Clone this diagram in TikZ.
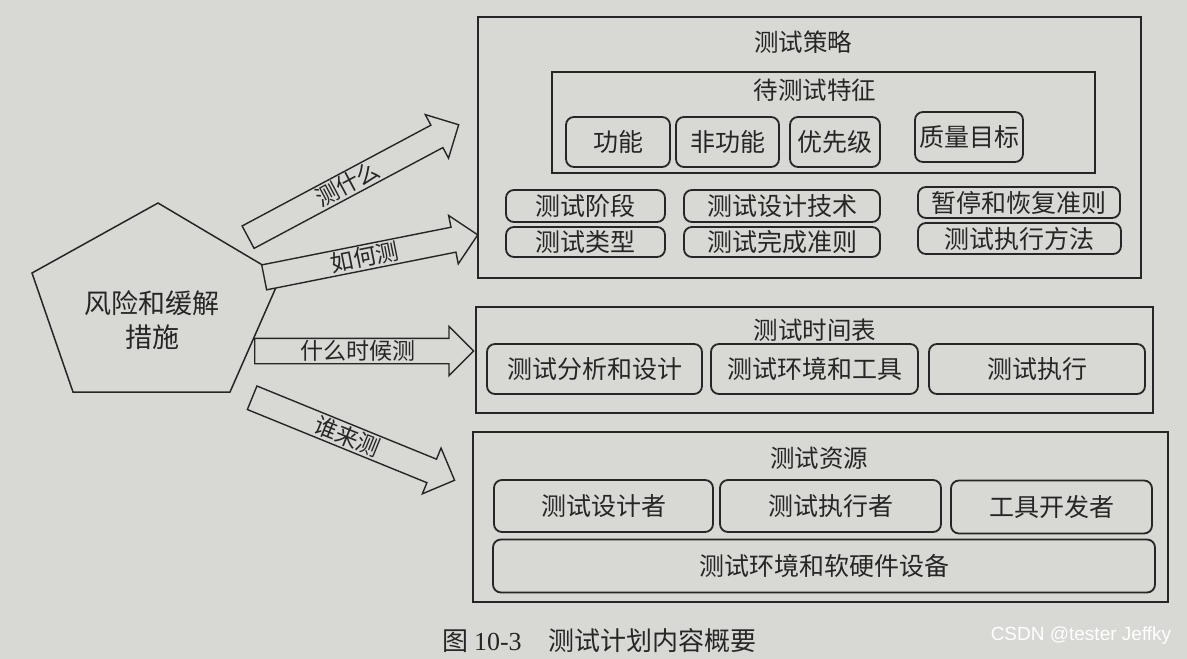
\documentclass[tikz,border=0pt]{standalone}
\usepackage{fontspec}
\setmainfont{Noto Sans CJK SC}
\newfontfamily\latinserif{Liberation Serif}
\newfontfamily\wmfont{Liberation Sans}
\usetikzlibrary{shapes.arrows}
\definecolor{paper}{RGB}{216,216,212}
\definecolor{ink}{RGB}{38,38,38}
\begin{document}
\begin{tikzpicture}[x=1pt,y=-1pt,
  frame/.style={draw=ink,line width=1.6pt,inner sep=0pt},
  itembox/.style={draw=ink,line width=1.8pt,rounded corners=8pt,inner sep=0pt,font=\fontsize{25}{28}\selectfont,text=ink},
  heading/.style={font=\fontsize{24.5}{28}\selectfont,text=ink,inner sep=0pt},
  barrow/.style={single arrow,draw=ink,fill=paper,line width=1.4pt,single arrow head extend=12pt,
    inner xsep=2pt,inner ysep=2.5pt,text height=18pt,text depth=1pt,
    font=\fontsize{23}{26}\selectfont,text=ink,anchor=tail}]
\fill[paper] (0,0) rectangle (1187,659);
\useasboundingbox (0,0) rectangle (1187,659);

% risk pentagon
\draw[ink,line width=1.5pt] (158,203) -- (281,276) -- (230,392) -- (73,392) -- (32,273) -- cycle;
\node[heading,font=\fontsize{27}{34}\selectfont,align=center] (risk) at (152,320) {风险和缓解\\措施};

% test strategy
\node[frame,minimum width=663,minimum height=261] (celue) at (809.5,147.5) {};
\node[heading] (celueT) at (803,42) {测试策略};
\node[frame,minimum width=543,minimum height=101] (tezheng) at (823.5,122.5) {};
\node[heading] (tezhengT) at (815,90) {待测试特征};
\node[itembox,minimum width=104,minimum height=50] (gn) at (618,142) {功能};
\node[itembox,minimum width=103,minimum height=50] (fgn) at (727.5,142) {非功能};
\node[itembox,minimum width=90,minimum height=50] (yxj) at (835,142) {优先级};
\node[itembox,minimum width=108,minimum height=50] (zlmb) at (969,137) {质量目标};
\node[itembox,minimum width=159,minimum height=32] (csjd) at (585.5,206) {测试阶段};
\node[itembox,minimum width=196,minimum height=32] (sjjs) at (782,206) {测试设计技术};
\node[itembox,minimum width=202,minimum height=31] (ztzz) at (1019,202.5) {暂停和恢复准则};
\node[itembox,minimum width=159,minimum height=30] (cslx) at (585.5,242) {测试类型};
\node[itembox,minimum width=196,minimum height=30] (wczz) at (782,242) {测试完成准则};
\node[itembox,minimum width=203,minimum height=31] (zxff) at (1019.5,238.5) {测试执行方法};

% schedule
\node[frame,minimum width=677,minimum height=106] (shijian) at (814.5,360) {};
\node[heading] (shijianT) at (815,330) {测试时间表};
\node[itembox,minimum width=215,minimum height=50] (fxsj) at (594.5,369) {测试分析和设计};
\node[itembox,minimum width=207,minimum height=50] (hjgj) at (814.5,369) {测试环境和工具};
\node[itembox,minimum width=216,minimum height=50] (cszx) at (1037,369) {测试执行};

% resources
\node[frame,minimum width=695,minimum height=170] (ziyuan) at (820.5,517) {};
\node[heading] (ziyuanT) at (819,458) {测试资源};
\node[itembox,minimum width=219,minimum height=52] (sjz) at (603.5,506) {测试设计者};
\node[itembox,minimum width=221,minimum height=52] (zxz) at (830.5,506) {测试执行者};
\node[itembox,minimum width=201,minimum height=53] (kfz) at (1051.5,507) {工具开发者};
\node[itembox,minimum width=662,minimum height=53] (sbhj) at (824,566) {测试环境和软硬件设备};

% block arrows
\node[barrow,minimum height=238.7,rotate=28.1] (what) at (247.5,237.5) {测什么};
\node[barrow,minimum height=217.7,rotate=11.26] (how) at (263.5,277.5) {如何测};
\node[barrow,minimum height=219,rotate=0] (when) at (254,351) {什么时候测};
\node[barrow,minimum height=218.6,rotate=-22.17] (who) at (251.5,397.5) {谁来测};

% caption and watermark
\node[heading,font=\fontsize{26}{30}\selectfont,anchor=west] (fig) at (442,641) {图 {\latinserif 10-3}};
\node[heading,font=\fontsize{26}{30}\selectfont,anchor=west] (cap) at (548,641) {测试计划内容概要};
\node[font={\wmfont\fontsize{19}{22}\selectfont},text=white,inner sep=0pt] (wm) at (1081,636) {CSDN @tester Jeffky};
\end{tikzpicture}
\end{document}
